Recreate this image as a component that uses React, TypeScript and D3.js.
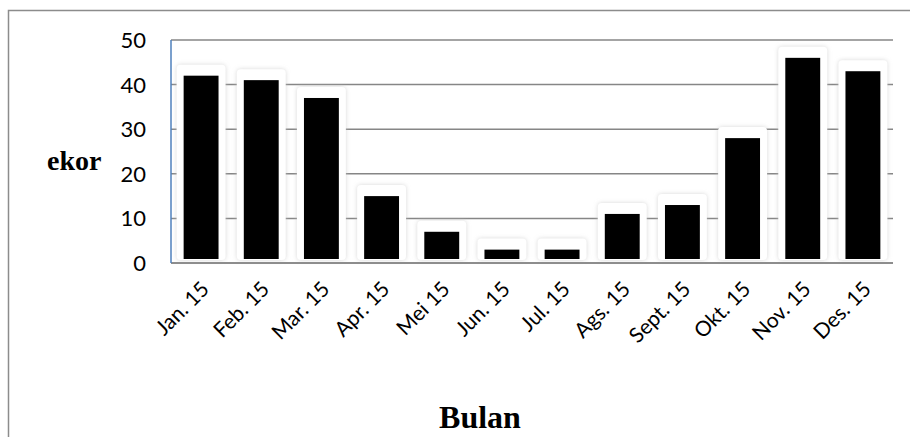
import React from "react";
import * as d3 from "d3";

const categories = ["Jan. 15", "Feb. 15", "Mar. 15", "Apr. 15", "Mei 15", "Jun. 15", "Jul. 15", "Ags. 15", "Sept. 15", "Okt. 15", "Nov. 15", "Des. 15"];
const values = [42, 41, 37, 15, 7, 3, 3, 11, 13, 28, 46, 43];
const yTicks = [0, 10, 20, 30, 40, 50];
const yTitle = "ekor";
const xTitle = "Bulan";

const W = 910, H = 437;
const left = 171, right = 893, top = 40, bottom = 263;

export default function App() {
  const x = d3.scaleBand<string>().domain(categories).range([left, right]).paddingInner(0.42).paddingOuter(0.21);
  const y = d3.scaleLinear().domain([0, 50]).range([bottom, top]);
  const bw = x.bandwidth();
  const pad = 7;
  const lift = 4;
  const tickFont = "Lato, 'Open Sans', sans-serif";
  return (
    <svg width={W} height={H} style={{ position: "absolute", left: 0, top: 0, background: "#fff" }}>
      <defs>
        <filter id="glow" x="-30%" y="-30%" width="160%" height="160%">
          <feDropShadow dx="0" dy="0" stdDeviation="2.2" floodColor="#c4c4c4" floodOpacity="0.7" />
        </filter>
      </defs>
      <rect x={8.5} y={10.5} width={W + 10} height={H + 10} fill="#fff" stroke="#8c8c8c" strokeWidth={1.5} />
      {yTicks.map((t) => (
        <line key={t} x1={left} x2={right} y1={y(t)} y2={y(t)} stroke="#868686" strokeWidth={1.5} />
      ))}
      {values.map((v, i) => {
        const cx = x(categories[i])!;
        return (
          <rect key={"g" + i} x={cx - pad} y={y(v) - pad - lift} width={bw + 2 * pad} height={y(0) - y(v) + pad + 1}
            rx={4} fill="#fff" filter="url(#glow)" />
        );
      })}
      <line x1={left} x2={right} y1={y(0)} y2={y(0)} stroke="#868686" strokeWidth={1.5} />
      {values.map((v, i) => {
        const cx = x(categories[i])!;
        return <rect key={"b" + i} x={cx} y={y(v)} width={bw} height={y(0) - y(v) - lift} fill="#000" />;
      })}
      <line x1={left} x2={left} y1={top} y2={bottom} stroke="#4f81bd" strokeWidth={1.5} />
      {yTicks.map((t) => (
        <text key={"t" + t} x={146} y={y(t)} dy="0.36em" textAnchor="end" fontFamily={tickFont} fontSize={22} fill="#000">
          {t}
        </text>
      ))}
      {categories.map((c) => {
        const cx = x(c)! + bw / 2;
        return (
          <text key={c} transform={`translate(${cx - 1},${280}) rotate(-45)`} textAnchor="end" dy="0.7em"
            fontFamily={tickFont} fontSize={21} fill="#000">
            {c}
          </text>
        );
      })}
      <text x={47} y={170} fontFamily="'Liberation Serif', 'Times New Roman', serif" fontWeight="bold" fontSize={28} fill="#000">
        {yTitle}
      </text>
      <text x={480} y={428} textAnchor="middle" fontFamily="'Liberation Serif', 'Times New Roman', serif" fontWeight="bold" fontSize={32} fill="#000">
        {xTitle}
      </text>
    </svg>
  );
}
